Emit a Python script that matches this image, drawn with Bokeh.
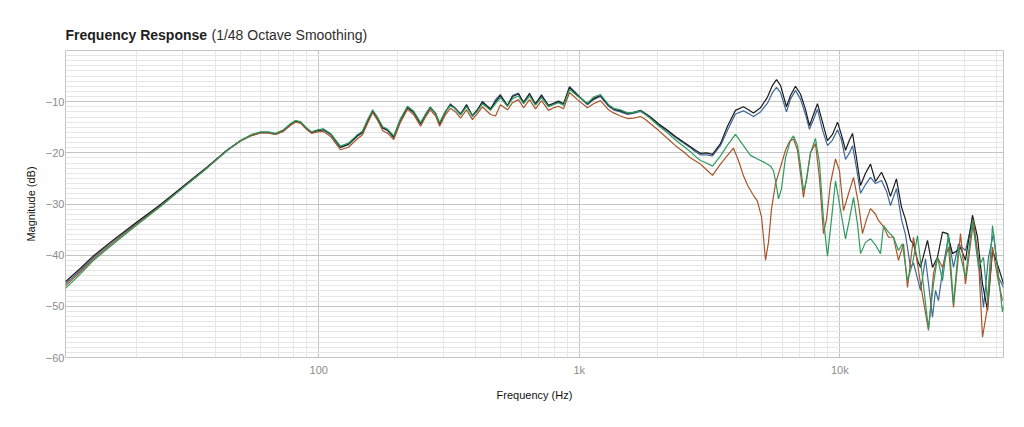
from bokeh.plotting import figure
from bokeh.models import FixedTicker, Range1d, Title
from bokeh.embed import file_html
from bokeh.resources import INLINE

# ---------------- data ----------------
# shared frequency points (Hz) below ~2.9 kHz
freq_low = [10.66, 12.2, 13.6, 15.9, 19.8, 24.7, 30.0, 37.4, 44.6, 50.1,
            54.7, 59.7, 64.1, 68.2, 73.2, 77.9, 81.4, 85.1, 89.7, 93.8,
            98.9, 104, 111, 121, 130, 141, 147, 154, 161, 168,
            176, 184, 194, 206, 219, 231, 246, 257, 268, 281,
            291, 306, 320, 335, 350, 369, 389, 407, 425, 456,
            477, 498, 530, 554, 584, 611, 644, 679, 716, 762,
            796, 832, 870, 917, 984, 1075, 1134, 1206, 1295, 1353,
            1439, 1531, 1615, 1718, 1795, 1876, 2014, 2181, 2340, 2512,
            2673, 2793]

black_low = [-45.2, -42.5, -40.2, -37.4, -33.7, -30.1, -26.6, -22.7, -19.4, -17.6,
             -16.6, -16.0, -16.0, -16.3, -15.6, -14.4, -13.8, -14.0, -15.2, -16.0,
             -15.6, -15.4, -16.3, -18.9, -18.3, -16.6, -16.0, -13.8, -11.9, -13.3,
             -15.1, -15.6, -16.9, -13.5, -11.1, -12.0, -14.3, -12.5, -11.1, -12.3,
             -14.3, -12.0, -10.6, -11.3, -12.4, -10.7, -12.7, -11.5, -10.1, -11.4,
             -10.0, -8.8, -10.7, -9.0, -8.5, -10.1, -8.5, -10.4, -8.8, -10.7,
             -10.3, -9.9, -10.4, -7.2, -8.8, -10.4, -9.4, -8.8, -10.7, -11.4,
             -11.8, -12.3, -12.1, -11.7, -12.3, -13.0, -14.3, -15.6, -16.8, -17.9,
             -18.8, -19.5]

blue_low = [-45.6, -42.9, -40.5, -37.6, -33.9, -30.3, -26.8, -22.8, -19.5, -17.7,
            -16.7, -16.1, -16.1, -16.4, -15.7, -14.5, -13.9, -14.1, -15.3, -16.1,
            -15.7, -15.5, -16.4, -19.0, -18.4, -16.7, -16.1, -13.9, -12.0, -13.4,
            -15.2, -15.7, -17.0, -13.6, -11.2, -12.1, -14.4, -12.6, -11.2, -12.4,
            -14.4, -12.1, -10.4, -11.5, -12.6, -10.5, -12.9, -11.7, -9.9, -11.6,
            -9.6, -8.6, -10.9, -8.8, -8.3, -10.3, -8.3, -10.6, -8.6, -10.9,
            -10.5, -10.1, -10.6, -7.0, -8.6, -10.6, -9.6, -9.0, -10.9, -11.6,
            -12.0, -12.5, -12.3, -11.9, -12.5, -13.2, -14.5, -15.8, -17.0, -18.1,
            -19.0, -19.8]

green_low = [-46.5, -43.6, -41.1, -38.2, -34.3, -30.5, -26.9, -22.9, -19.5, -17.6,
             -16.5, -15.9, -15.9, -16.2, -15.5, -14.3, -13.7, -13.9, -15.1, -15.9,
             -15.5, -15.3, -16.2, -18.7, -18.1, -16.4, -15.8, -13.5, -11.6, -13.0,
             -14.9, -15.4, -16.7, -13.3, -10.9, -11.8, -14.1, -12.4, -11.0, -12.3,
             -14.1, -11.9, -10.8, -11.4, -12.6, -11.0, -12.8, -11.8, -10.4, -11.7,
             -10.4, -9.2, -10.9, -9.4, -8.9, -10.4, -8.9, -10.7, -9.2, -11.0,
             -10.6, -10.2, -10.7, -7.6, -8.9, -10.3, -9.1, -8.6, -10.6, -11.3,
             -11.6, -12.2, -12.1, -11.8, -12.5, -13.3, -14.7, -16.1, -17.5, -18.7,
             -19.8, -20.7]

brown_low = [-46.0, -43.2, -40.8, -37.9, -34.1, -30.4, -26.9, -22.9, -19.5, -17.7,
             -16.7, -16.1, -16.1, -16.4, -15.8, -14.6, -14.0, -14.2, -15.4, -16.2,
             -15.9, -15.8, -16.8, -19.4, -18.9, -17.2, -16.5, -14.2, -12.1, -13.6,
             -15.7, -16.2, -17.4, -14.0, -11.5, -12.5, -14.8, -13.0, -11.6, -12.8,
             -14.8, -12.6, -11.3, -12.0, -13.2, -11.6, -13.5, -12.3, -11.0, -12.5,
             -12.8, -10.6, -11.6, -10.2, -9.6, -11.2, -9.6, -11.4, -9.8, -11.7,
             -11.2, -10.9, -11.4, -8.2, -9.6, -11.2, -10.4, -9.8, -11.6, -12.2,
             -12.8, -13.3, -13.2, -12.9, -13.5, -14.3, -15.6, -17.2, -18.6, -19.8,
             -21.0, -21.6]

# high-frequency part, per series
freq_black_hi = [2920, 3078, 3246, 3483, 3706, 3977, 4268, 4461, 4663, 4961,
                 5278, 5517, 5715, 5921, 6242, 6467, 6759, 7065, 7384, 7650,
                 7925, 8210, 8581, 8969, 9376, 9800, 10150, 10520, 10890, 11190,
                 11590, 12010, 12550, 13120, 13710, 14460, 15110, 15650, 16500, 17250,
                 17870, 18680, 19180, 19870, 20410, 21710, 22690, 23710, 24790, 25910,
                 27080, 28300, 29060, 30370, 32310, 33780, 35300, 36900, 38570, 40660,
                 42500]
black_hi = [-20.1, -20.0, -20.3, -18.2, -14.8, -11.7, -11.0, -11.6, -12.2, -11.2,
            -9.1, -6.8, -5.7, -6.8, -11.0, -8.8, -7.0, -8.5, -11.5, -14.7,
            -12.5, -10.4, -14.0, -17.6, -16.4, -14.0, -16.5, -19.5, -17.5, -16.2,
            -21.0, -26.4, -24.0, -22.2, -25.6, -23.8, -26.0, -28.5, -25.1, -30.6,
            -33.0, -37.1, -37.8, -41.0, -42.4, -37.1, -42.4, -40.4, -35.5, -35.8,
            -39.7, -39.1, -38.5, -41.0, -32.2, -36.5, -45.6, -50.8, -39.1, -42.4,
            -45.6]

freq_blue_hi = [2920, 3078, 3246, 3483, 3706, 3977, 4268, 4461, 4663, 4961,
                5278, 5517, 5715, 5921, 6242, 6467, 6759, 7065, 7384, 7650,
                7925, 8210, 8581, 8969, 9376, 9800, 10150, 10520, 10890, 11190,
                11590, 12010, 12550, 13120, 13710, 14460, 15110, 15650, 16500, 17250,
                17870, 18680, 19180, 20410, 21330, 22690, 23300, 23920, 25010, 26140,
                27320, 28550, 30370, 32310, 34080, 35610, 37220, 38900, 40660, 42500]
blue_hi = [-20.4, -20.4, -20.6, -18.6, -15.6, -12.4, -11.8, -12.3, -12.9, -12.0,
           -10.3, -8.2, -7.2, -8.2, -12.0, -9.5, -7.8, -9.5, -12.5, -15.4,
           -13.5, -11.5, -15.5, -18.6, -17.5, -15.5, -17.5, -21.3, -20.0, -18.6,
           -23.0, -27.9, -26.2, -24.8, -26.0, -25.4, -27.5, -30.3, -27.0, -33.0,
           -36.0, -42.4, -41.5, -46.9, -40.7, -52.1, -46.9, -48.9, -41.7, -36.5,
           -42.4, -37.8, -39.1, -33.2, -41.0, -50.2, -40.4, -35.8, -44.3, -46.3]

freq_green_hi = [2920, 3078, 3246, 3483, 3706, 3977, 4268, 4541, 4831, 5186,
                 5420, 5565, 5715, 5817, 5973, 6188, 6467, 6641, 6880, 7065,
                 7255, 7450, 7718, 8066, 8357, 8657, 8969, 9291, 9627, 9972,
                 10520, 10890, 11290, 11700, 12010, 12550, 13120, 13710, 14330, 14720,
                 15380, 16070, 16800, 17400, 18190, 19010, 19870, 20770, 21900, 22890,
                 23710, 24790, 26140, 27320, 28550, 30370, 32310, 34080, 35610, 36900,
                 38570, 40310, 42120, 42500]
green_hi = [-21.5, -22.0, -22.6, -20.6, -18.5, -16.4, -18.6, -20.5, -21.2, -22.0,
            -22.6, -23.5, -26.5, -29.0, -27.0, -21.0, -17.5, -16.7, -18.5, -22.5,
            -27.4, -25.5, -20.0, -17.2, -22.0, -33.0, -40.2, -33.0, -25.5, -30.0,
            -36.8, -33.0, -28.7, -34.0, -39.7, -37.5, -36.8, -38.0, -39.7, -34.2,
            -35.5, -36.5, -39.1, -37.8, -45.0, -41.7, -36.2, -44.3, -54.4, -45.6,
            -40.4, -45.0, -35.8, -49.5, -38.4, -44.3, -33.2, -42.4, -40.4, -48.9,
            -34.2, -42.4, -51.1, -50.0]

freq_brown_hi = [2920, 3078, 3246, 3483, 3706, 3907, 4084, 4268, 4422, 4622,
                 4831, 5006, 5095, 5186, 5324, 5467, 5665, 5921, 6188, 6410,
                 6641, 6880, 7065, 7255, 7450, 7718, 8066, 8357, 8657, 8889,
                 9210, 9627, 9972, 10330, 10800, 11290, 11800, 12220, 12660, 13120,
                 13710, 14080, 14720, 15380, 16070, 16800, 17560, 18190, 19180, 20410,
                 21900, 22890, 23710, 24790, 26140, 27320, 29060, 30370, 32600, 34080,
                 35300, 36900, 38570, 40310, 42120]
brown_hi = [-22.2, -23.3, -24.4, -22.2, -20.5, -19.1, -21.5, -24.5, -26.3, -28.0,
            -29.5, -32.5, -36.5, -41.0, -37.5, -31.0, -26.0, -22.8, -19.5, -17.8,
            -17.3, -19.5, -24.0, -28.7, -25.0, -20.0, -18.2, -25.0, -35.8, -33.0,
            -26.0, -21.2, -23.5, -31.3, -28.0, -24.8, -30.0, -35.8, -33.0, -30.9,
            -32.0, -33.2, -34.4, -36.5, -36.5, -41.0, -37.8, -46.3, -36.5, -45.6,
            -54.7, -43.6, -40.4, -42.4, -38.4, -50.2, -35.8, -45.6, -33.2, -41.0,
            -56.0, -50.2, -38.4, -44.3, -48.9]

x_major_ticks = [100, 1000, 10000]
x_tick_labels = {100: "100", 1000: "1k", 10000: "10k"}
y_major_ticks = [-60, -50, -40, -30, -20, -10]

title_main = "Frequency Response"
title_sub = "(1/48 Octave Smoothing)"
x_label = "Frequency (Hz)"
y_label = "Magnitude (dB)"

# ---------------- figure ----------------
FONT = "Liberation Sans"

p = figure(x_axis_type="log",
           x_range=Range1d(10.66, 42500), y_range=Range1d(-60, 0),
           frame_width=938, frame_height=307,
           min_border_left=65, min_border_right=13,
           min_border_top=50, min_border_bottom=50,
           output_backend="svg", toolbar_location=None,
           background_fill_color="white", border_fill_color="white")

p.title.text = title_main
p.title.text_font = FONT
p.title.text_font_size = "14px"
p.title.text_font_style = "bold"
p.title.text_color = "#1e1e1e"
p.title.standoff = -52   # pulled down into the row of the second heading part

# second part of the heading (panel next to the frame)
p.add_layout(Title(text=title_sub, text_font=FONT, text_font_size="14px",
                   text_font_style="normal", text_color="#2e2e2e",
                   align="left", offset=146, standoff=16), "above")

x_minor = [m * 10 ** k for k in range(1, 5) for m in range(2, 10)
           if 10.66 < m * 10 ** k < 42500]
y_minor = [v for v in range(-60, 1) if v % 10 != 0]

p.xaxis.ticker = FixedTicker(ticks=x_major_ticks, minor_ticks=x_minor)
p.yaxis.ticker = FixedTicker(ticks=y_major_ticks, minor_ticks=y_minor)
p.xaxis.major_label_overrides = x_tick_labels

for ax in (p.xaxis, p.yaxis):
    ax.axis_line_color = None
    ax.major_tick_line_color = None
    ax.minor_tick_line_color = None
    ax.major_tick_out = 0
    ax.major_tick_in = 0
    ax.minor_tick_out = 0
    ax.minor_tick_in = 0
    ax.major_label_text_font = FONT
    ax.major_label_text_font_size = "11px"
    ax.major_label_text_color = "#8c8c8c"
    ax.axis_label_text_font = FONT
    ax.axis_label_text_font_size = "11px"
    ax.axis_label_text_font_style = "normal"
    ax.axis_label_text_color = "#111111"

p.xaxis.axis_label = x_label
p.yaxis.axis_label = y_label
p.xaxis.major_label_standoff = 6
p.yaxis.major_label_standoff = 1
p.xaxis.axis_label_standoff = 10
p.yaxis.axis_label_standoff = 6

for g in (p.xgrid, p.ygrid):
    g.grid_line_color = "#c4c4c4"
    g.grid_line_width = 1
    g.minor_grid_line_color = "#e6e6e6"
    g.minor_grid_line_width = 1
p.xgrid.ticker = p.xaxis.ticker
p.ygrid.ticker = p.yaxis.ticker

p.outline_line_color = "#c4c4c4"
p.outline_line_width = 1

series = [
    (freq_low + freq_blue_hi, blue_low + blue_hi, "#3f6899"),
    (freq_low + freq_black_hi, black_low + black_hi, "#1b1b1b"),
    (freq_low + freq_brown_hi, brown_low + brown_hi, "#a8552a"),
    (freq_low + freq_green_hi, green_low + green_hi, "#2f9a60"),
]
for xs, ys, c in series:
    p.line(xs, ys, line_color=c, line_width=1.2)

open("out.html", "w").write(file_html(p, INLINE))
